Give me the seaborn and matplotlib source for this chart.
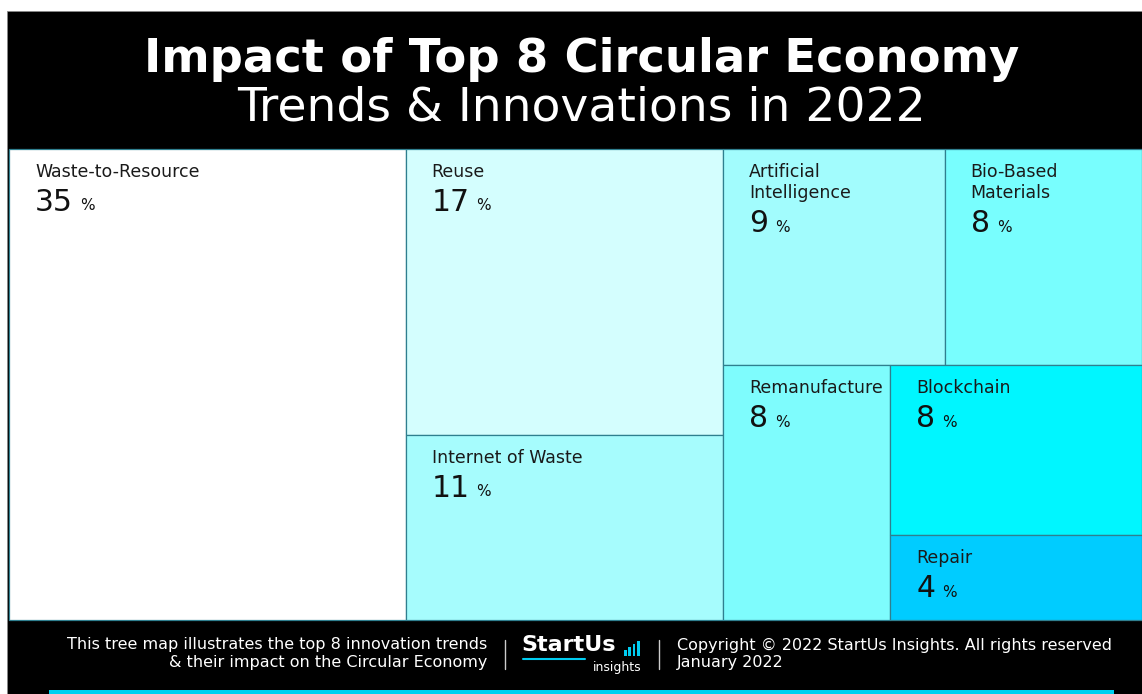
import matplotlib
matplotlib.use("Agg")
import matplotlib.pyplot as plt
from matplotlib.patches import Rectangle
import seaborn as sns

# Treemap data: innovation trends and their share of impact (%)
trends = ["Waste-to-Resource", "Reuse", "Internet of Waste",
          "Artificial\nIntelligence", "Bio-Based\nMaterials",
          "Remanufacture", "Blockchain", "Repair"]
impact = [35, 17, 11, 9, 8, 8, 8, 4]
tile_colors = ["#ffffff", "#d4fefe", "#a6fcfd", "#a2fcfd",
               "#78fefe", "#7efcfd", "#00f6ff", "#00ccff"]

title_line1 = "Impact of Top 8 Circular Economy"
title_line2 = "Trends & Innovations in 2022"
footer_left = ["This tree map illustrates the top 8 innovation trends",
               "& their impact on the Circular Economy"]
footer_right = ["Copyright \u00a9 2022 StartUs Insights. All rights reserved",
                "January 2022"]

# Nesting of the tiles: "h" splits side by side, "v" stacks top to bottom
layout = ("h", [0, ("v", [1, 2]),
                ("v", [("h", [3, 4]),
                       ("h", [5, ("v", [6, 7])])])])

sns.set_theme(style="white")
plt.rcParams["font.family"] = ["DejaVu Sans"]

W, H = 1142, 694
fig = plt.figure(figsize=(W / 100, H / 100), dpi=100)
fig.patch.set_facecolor("white")


def fx(px):
    return px / W


def fy(py):
    return 1 - py / H


# black frame (header + footer background)
fig.patches.append(Rectangle((fx(7), 0), 1 - fx(7), fy(11), transform=fig.transFigure,
                             facecolor="black", edgecolor="#888888", lw=0.6, zorder=-5))

ax = fig.add_axes([fx(9), fy(620), 1 - fx(9), fy(149) - fy(620)])
ax.set_zorder(2)
ax.set_xlim(0, 1)
ax.set_ylim(1, 0)
ax.axis("off")


def total(node):
    if isinstance(node, int):
        return impact[node]
    return sum(total(c) for c in node[1])


def place(node, x, y, w, h, out):
    if isinstance(node, int):
        out[node] = (x, y, w, h)
        return
    kind, children = node
    s = total(node)
    pos = 0.0
    for c in children:
        f = total(c) / s
        if kind == "h":
            place(c, x + pos * w, y, f * w, h, out)
        else:
            place(c, x, y + pos * h, w, f * h, out)
        pos += f


rects = {}
place(layout, 0, 0, 1, 1, rects)

for i, name in enumerate(trends):
    x, y, w, h = rects[i]
    ax.add_patch(Rectangle((x, y), w, h, facecolor=tile_colors[i],
                           edgecolor="#2f7f8f", lw=0.9, clip_on=False))
    lab = ax.annotate(name, xy=(x, y), xytext=(26, -14), textcoords="offset pixels",
                      ha="left", va="top", fontsize=12.5, color="#1a1a1a",
                      linespacing=1.22)
    num = ax.annotate(str(impact[i]), xy=(0, 0), xycoords=lab, xytext=(0, -7),
                      textcoords="offset pixels", ha="left", va="top",
                      fontsize=21.5, color="#111111")
    ax.annotate("%", xy=(1, 0), xycoords=num, xytext=(7, 3.5),
                textcoords="offset pixels", ha="left", va="bottom",
                fontsize=11, color="#111111")

# header
fig.text(0.509, fy(60), title_line1, ha="center", va="center", color="white",
         fontsize=33.5, fontweight="bold")
fig.text(0.509, fy(108), title_line2, ha="center", va="center", color="white",
         fontsize=34)

# footer text
fs = 11.5
fig.text(fx(487), fy(645), footer_left[0], ha="right", va="center",
         color="white", fontsize=fs)
fig.text(fx(487), fy(662), footer_left[1], ha="right", va="center",
         color="white", fontsize=fs)
fig.text(fx(677), fy(645), footer_right[0], ha="left", va="center",
         color="white", fontsize=fs)
fig.text(fx(677), fy(662), footer_right[1], ha="left", va="center",
         color="white", fontsize=fs)

for xd in (505, 659):
    fig.add_artist(plt.Line2D([fx(xd), fx(xd)], [fy(640), fy(669)],
                              transform=fig.transFigure, color="#cccccc", lw=1))

# logo
fig.text(fx(521), fy(645), "StartUs", ha="left", va="center", color="white",
         fontsize=16, fontweight="bold")
fig.add_artist(plt.Line2D([fx(523), fx(585)], [fy(659), fy(659)],
                          transform=fig.transFigure, color="#00ccf0", lw=1.5))
fig.text(fx(641), fy(667), "insights", ha="right", va="center", color="white",
         fontsize=9)
for k, bh in enumerate([6, 9, 12, 15]):
    fig.patches.append(Rectangle((fx(624 + k * 4.3), fy(656)), fx(2.6), bh / H,
                                 transform=fig.transFigure, facecolor="#00ccf0",
                                 edgecolor="none"))

# accent line along the bottom
fig.patches.append(Rectangle((fx(49), 0), fx(1114) - fx(49), 4 / H,
                             transform=fig.transFigure, facecolor="#00d0f0",
                             edgecolor="none"))

fig.savefig("out.png", dpi=100, facecolor=fig.get_facecolor())
